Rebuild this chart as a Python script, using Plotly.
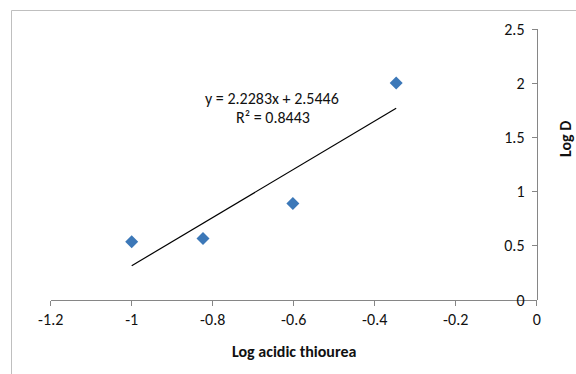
import plotly.graph_objects as go
import numpy as np

# Data
log_thiourea = [-1.0, -0.824, -0.602, -0.347]
log_d = [0.538, 0.569, 0.892, 2.005]
trend_slope = 2.2283
trend_intercept = 2.5446
trend_label = ["y = 2.2283x + 2.5446", "R² = 0.8443"]
x_ticks = [-1.2, -1.0, -0.8, -0.6, -0.4, -0.2, 0.0]
x_tick_text = ["-1.2", "-1", "-0.8", "-0.6", "-0.4", "-0.2", "0"]
y_ticks = [0, 0.5, 1.0, 1.5, 2.0, 2.5]
y_tick_text = ["0", "0.5", "1", "1.5", "2", "2.5"]

W, H = 576, 374
FONT = "Calibri, Carlito, Lato, sans-serif"
AX = "#868686"
TXT = "#111111"

xd = [50.7 / W, 536.7 / W]
yd = [(H - 300) / H, (H - 29.3) / H]

tx = np.array([min(log_thiourea), max(log_thiourea)])
ty = trend_slope * tx + trend_intercept

fig = go.Figure()
fig.add_trace(go.Scatter(x=tx, y=ty, mode="lines",
                         line=dict(color="black", width=1.2),
                         hoverinfo="skip", showlegend=False))
fig.add_trace(go.Scatter(x=log_thiourea, y=log_d, mode="markers",
                         marker=dict(symbol="diamond", size=10, color="#3C78B8",
                                     line=dict(width=0)),
                         showlegend=False))

fig.update_layout(
    width=W, height=H,
    margin=dict(l=0, r=0, t=0, b=0, autoexpand=False),
    paper_bgcolor="white", plot_bgcolor="white",
    font=dict(family=FONT, size=16, color=TXT),
    xaxis=dict(domain=xd, range=[-1.2, 0], tickvals=x_ticks, ticktext=x_tick_text,
               showgrid=False, zeroline=False, showline=True, linecolor=AX, linewidth=1,
               ticks="outside", ticklen=5, tickcolor=AX, anchor="y", automargin=False,
               tickfont=dict(size=16, family=FONT, color=TXT)),
    yaxis=dict(domain=yd, range=[0, 2.5], tickvals=y_ticks, ticktext=y_tick_text,
               showgrid=False, zeroline=False, showline=True, linecolor=AX, linewidth=1,
               ticks="outside", ticklen=5, tickcolor=AX, anchor="free",
               position=xd[1], side="left", automargin=False, ticklabelstandoff=4,
               tickfont=dict(size=16, family=FONT, color=TXT)),
    shapes=[dict(type="rect", xref="paper", yref="paper",
                 x0=11.5 / W, x1=1.05, y0=-0.05, y1=(H - 10.5) / H,
                 line=dict(color="#BFBFBF", width=1), fillcolor="rgba(0,0,0,0)")],
    annotations=[
        dict(text=trend_label[0], xref="paper", yref="paper", x=272 / W, y=(H - 99) / H,
             showarrow=False, font=dict(size=16, family=FONT, color=TXT),
             xanchor="center", yanchor="middle"),
        dict(text=trend_label[1], xref="paper", yref="paper", x=272.5 / W, y=(H - 117.5) / H,
             showarrow=False, font=dict(size=16, family=FONT, color=TXT),
             xanchor="center", yanchor="middle"),
        dict(text="<b>Log acidic thiourea</b>", xref="paper", yref="paper",
             x=294 / W, y=(H - 351.5) / H, showarrow=False,
             font=dict(size=16, family=FONT, color=TXT),
             xanchor="center", yanchor="middle"),
        dict(text="<b>Log D</b>", xref="paper", yref="paper",
             x=565 / W, y=(H - 139) / H, showarrow=False, textangle=-90,
             font=dict(size=16, family=FONT, color=TXT),
             xanchor="center", yanchor="middle"),
    ],
)

fig.write_html("out.html")
